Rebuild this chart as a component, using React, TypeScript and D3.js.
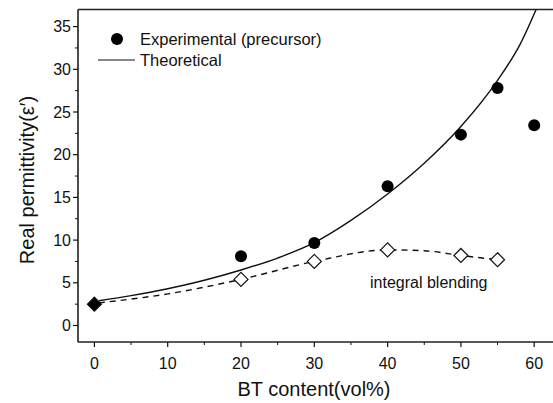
import React from "react";
import * as d3 from "d3";

const expX = [20, 30, 40, 50, 55, 60];
const expY = [8.1, 9.65, 16.3, 22.35, 27.8, 23.45];

const blendX = [0, 20, 30, 40, 50, 55];
const blendY = [2.5, 5.4, 7.5, 8.85, 8.2, 7.7];

const theoX = [0.6, 5, 10, 15, 20, 25, 30, 35, 40, 45, 50, 55, 58, 61];
const theoY = [2.9, 3.5, 4.3, 5.3, 6.5, 7.9, 9.7, 12.3, 15.4, 19.0, 23.3, 28.7, 32.8, 38.5];

const dashX = [0.6, 10, 20, 30, 40, 45, 50, 55];
const dashY = [2.65, 3.7, 5.4, 7.5, 8.85, 8.75, 8.2, 7.7];

const xTicks = [0, 10, 20, 30, 40, 50, 60];
const yTicks = [0, 5, 10, 15, 20, 25, 30, 35];

const W = 553, H = 403;
const L = 78, R = 553, T = 9.5, B = 342;
const FONT = "'Liberation Sans', Arial, sans-serif";

export default function App() {
  const x = d3.scaleLinear().domain([0, 60]).range([94.4, 94.4 + 6 * 73.3]);
  const y = d3.scaleLinear().domain([0, 35]).range([325.5, 325.5 - 35 * 8.54]);

  const theoLine = d3.line<number>().x((_, i) => x(theoX[i])).y((_, i) => y(theoY[i])).curve(d3.curveMonotoneX);
  const dashLine = d3.line<number>().x((_, i) => x(dashX[i])).y((_, i) => y(dashY[i])).curve(d3.curveMonotoneX);

  const xMinor = d3.range(-0, 62, 5).filter((v) => v % 10 !== 0);
  const yMinor = d3.range(-2.5, 37, 2.5).filter((v) => Math.abs(v % 5) > 0.01 && y(v) >= T && y(v) <= B);

  const diamond = (cx: number, cy: number, r: number) =>
    `M${cx},${cy - r}L${cx + r},${cy}L${cx},${cy + r}L${cx - r},${cy}Z`;

  return (
    <svg width={W} height={H} style={{ position: "absolute", left: 0, top: 0, background: "#fff" }} fontFamily={FONT}>
      <defs>
        <clipPath id="clip">
          <rect x={L} y={T} width={R - L} height={B - T} />
        </clipPath>
      </defs>
      {/* frame */}
      <line x1={L} y1={T} x2={R} y2={T} stroke="#222" strokeWidth={1.5} />
      <line x1={L} y1={B} x2={R} y2={B} stroke="#222" strokeWidth={1.5} />
      <line x1={L} y1={T} x2={L} y2={B} stroke="#111" strokeWidth={1.5} />

      {/* y ticks */}
      {yTicks.map((v) => (
        <g key={"yt" + v}>
          <line x1={L - 5} x2={L} y1={y(v)} y2={y(v)} stroke="#111" strokeWidth={1.2} />
          <text x={L - 7} y={y(v)} dy="0.35em" textAnchor="end" fontSize={16} fill="#111">{v}</text>
        </g>
      ))}
      {yMinor.map((v) => (
        <line key={"ym" + v} x1={L - 3} x2={L} y1={y(v)} y2={y(v)} stroke="#111" strokeWidth={1} />
      ))}
      {/* x ticks */}
      {xTicks.map((v) => (
        <g key={"xt" + v}>
          <line x1={x(v)} x2={x(v)} y1={B} y2={B + 5} stroke="#111" strokeWidth={1.2} />
          <text x={x(v)} y={B + 21} dy="0.35em" textAnchor="middle" fontSize={16} fill="#111">{v}</text>
        </g>
      ))}
      {xMinor.map((v) => (
        <line key={"xm" + v} x1={x(v)} x2={x(v)} y1={B} y2={B + 3} stroke="#111" strokeWidth={1} />
      ))}

      {/* axis titles */}
      <text x={314} y={389} dy="0.35em" textAnchor="middle" fontSize={20} fill="#111">BT content(vol%)</text>
      <text transform="translate(27,180) rotate(-90)" dy="0.35em" textAnchor="middle" fontSize={20} fill="#111">
        Real permittivity(ε′)
      </text>

      <g clipPath="url(#clip)">
        <path d={theoLine(theoX) || ""} fill="none" stroke="#111" strokeWidth={1.4} />
        <path d={dashLine(dashX) || ""} fill="none" stroke="#111" strokeWidth={1.4} strokeDasharray="6,5" />
      </g>

      {/* blending diamonds */}
      {blendX.map((v, i) => (
        <path key={"d" + i} d={diamond(x(v), y(blendY[i]), 7)} fill={v === 0 ? "#000" : "#fff"} stroke="#111" strokeWidth={1.2} />
      ))}
      {/* experimental circles */}
      {expX.map((v, i) => (
        <circle key={"c" + i} cx={x(v)} cy={y(expY[i])} r={6} fill="#000" />
      ))}

      <text x={370} y={282} dy="0.35em" fontSize={16} fill="#111">integral blending</text>

      {/* legend */}
      <circle cx={117} cy={39} r={6} fill="#000" />
      <text x={140} y={39} dy="0.35em" fontSize={16.5} fill="#111">Experimental (precursor)</text>
      <line x1={98} x2={135} y1={60} y2={60} stroke="#111" strokeWidth={1.2} />
      <text x={140} y={60} dy="0.35em" fontSize={16.5} fill="#111">Theoretical</text>
    </svg>
  );
}
